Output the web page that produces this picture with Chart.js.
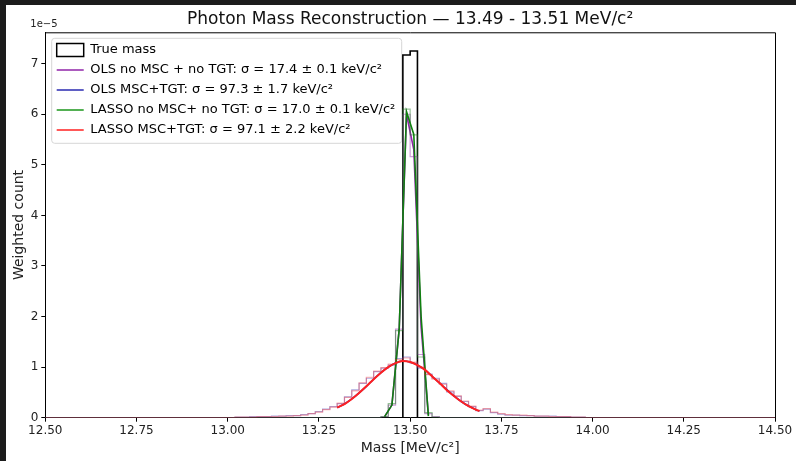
<!DOCTYPE html>
<html>
<head>
<meta charset="utf-8">
<script src="https://cdn.jsdelivr.net/npm/chart.js@4.4.1/dist/chart.umd.min.js"></script>
<style>
  html, body { margin: 0; padding: 0; background: #fff; }
  #wrap { position: relative; width: 796px; height: 461px; overflow: hidden; }
  #bandTop { position: absolute; left: 0; top: 0; width: 796px; height: 5px; background: #1c1c1c; }
  #bandLeft { position: absolute; left: 0; top: 0; width: 6px; height: 461px; background: #1c1c1c; }
  canvas { position: absolute; left: 0; top: 0; }
</style>
</head>
<body>
<div id="wrap">
  <canvas id="massChart" width="796" height="461"></canvas>
  <div id="bandTop"></div>
  <div id="bandLeft"></div>
</div>
<script>
// histogram binning (MeV/c^2), values below are in units of 1e-5
const binLo = 12.5;
const binHi = 14.5;
const binW = 0.02;

// True mass: two filled bins starting at 13.48
const trueStart = 13.48;
const trueCounts = [7.17, 7.25];

// no MSC / no TGT histograms, first bin 13.40
const narrowStart = 13.40;
const olsNoMscCounts   = [0.00, 0.02, 0.25, 1.75, 6.00, 5.16, 1.25, 0.08, 0.02, 0.00];
const lassoNoMscCounts = [0.00, 0.02, 0.28, 1.72, 6.10, 5.59, 1.20, 0.10, 0.01, 0.00];

// MSC+TGT histograms, first bin 13.00
const wideStart = 13.00;
const olsMscCounts = [
  0.00, 0.01, 0.01, 0.02, 0.02, 0.02, 0.03, 0.03, 0.04, 0.04,
  0.06, 0.08, 0.12, 0.17, 0.22, 0.28, 0.41, 0.55, 0.68, 0.78,
  0.91, 0.98, 1.04, 1.17, 1.20, 1.08, 0.98, 0.86, 0.78, 0.68,
  0.51, 0.42, 0.32, 0.22, 0.14, 0.17, 0.10, 0.07, 0.05, 0.05,
  0.04, 0.04, 0.03, 0.03, 0.03, 0.02, 0.02, 0.01, 0.01, 0.00
];
const lassoMscCounts = [
  0.00, 0.01, 0.01, 0.01, 0.02, 0.02, 0.02, 0.03, 0.03, 0.04,
  0.05, 0.08, 0.11, 0.16, 0.21, 0.29, 0.40, 0.53, 0.69, 0.80,
  0.92, 0.99, 1.06, 1.15, 1.18, 1.10, 1.00, 0.85, 0.76, 0.66,
  0.53, 0.43, 0.33, 0.23, 0.15, 0.18, 0.11, 0.08, 0.06, 0.05,
  0.05, 0.04, 0.03, 0.03, 0.02, 0.02, 0.02, 0.01, 0.01, 0.00
];

// fitted curves
const narrowFitX    = [13.43, 13.45, 13.47, 13.49, 13.51, 13.53, 13.55];
const olsNoMscFit   = [0.02, 0.25, 1.75, 6.00, 5.30, 1.80, 0.05];
const lassoNoMscFit = [0.02, 0.25, 1.75, 6.05, 5.60, 2.00, 0.03];

const wideFitX    = [13.30, 13.32, 13.34, 13.36, 13.38, 13.40, 13.42, 13.44, 13.46, 13.48, 13.50,
                     13.52, 13.54, 13.56, 13.58, 13.60, 13.62, 13.64, 13.66, 13.68, 13.69];
const olsMscFit   = [0.20, 0.27, 0.37, 0.49, 0.62, 0.76, 0.89, 1.00, 1.08, 1.12, 1.10,
                     1.04, 0.95, 0.82, 0.69, 0.56, 0.43, 0.32, 0.23, 0.16, 0.13];
const lassoMscFit = [0.20, 0.27, 0.37, 0.49, 0.62, 0.76, 0.89, 1.00, 1.08, 1.12, 1.10,
                     1.04, 0.95, 0.82, 0.69, 0.55, 0.43, 0.32, 0.23, 0.16, 0.13];

const yMax = 7.62;
const xTickStep = 0.25;

const titleText = 'Photon Mass Reconstruction \u2014 13.49 - 13.51 MeV/c\u00b2';
const labels = {
  trueMass: 'True mass',
  olsNoMsc: 'OLS no MSC + no TGT: \u03c3 = 17.4 \u00b1 0.1 keV/c\u00b2',
  olsMsc: 'OLS MSC+TGT: \u03c3 = 97.3 \u00b1 1.7 keV/c\u00b2',
  lassoNoMsc: 'LASSO no MSC+ no TGT: \u03c3 = 17.0 \u00b1 0.1 keV/c\u00b2',
  lassoMsc: 'LASSO MSC+TGT: \u03c3 = 97.1 \u00b1 2.2 keV/c\u00b2'
};

const colPurple = '#9024a8';
const colBlue = '#2a2ab0';
const colGreen = '#1a961a';
const colRed = '#ff2020';

// build a step outline over the full bin range (matplotlib histtype='step')
function stepPoints(start, counts) {
  const nb = Math.round((binHi - binLo) / binW);
  const off = Math.round((start - binLo) / binW);
  const vals = new Array(nb).fill(0);
  counts.forEach((v, i) => { vals[off + i] = v; });
  const pts = [{ x: binLo, y: 0 }];
  vals.forEach((v, i) => pts.push({ x: +(binLo + i * binW).toFixed(4), y: v }));
  pts.push({ x: binHi, y: vals[nb - 1] });
  pts.push({ x: binHi, y: 0 });
  return pts;
}

function linePoints(xs, ys) {
  return xs.map((x, i) => ({ x: x, y: ys[i] }));
}

function histSet(name, pts, color, width, order) {
  return {
    label: name, data: pts, stepped: 'before',
    borderColor: color, borderWidth: width, backgroundColor: 'transparent',
    pointRadius: 0, fill: false, order: order
  };
}

function fitSet(name, pts, color, width, order, smooth) {
  return {
    label: name, data: pts,
    borderColor: color, borderWidth: width, backgroundColor: 'transparent',
    pointRadius: 0, fill: false, order: order,
    cubicInterpolationMode: smooth ? 'monotone' : 'default', tension: 0
  };
}

const datasets = [
  histSet('trueHist', stepPoints(trueStart, trueCounts), '#000000', 1.6, 20),
  histSet('olsNoMscHist', stepPoints(narrowStart, olsNoMscCounts), 'rgba(144,36,168,0.45)', 1.2, 12),
  fitSet('olsNoMscFit', linePoints(narrowFitX, olsNoMscFit), colPurple, 1.6, 11, false),
  histSet('olsMscHist', stepPoints(wideStart, olsMscCounts), 'rgba(42,42,176,0.4)', 1.2, 10),
  fitSet('olsMscFit', linePoints(wideFitX, olsMscFit), colBlue, 1.6, 9, true),
  histSet('lassoNoMscHist', stepPoints(narrowStart, lassoNoMscCounts), 'rgba(26,120,26,0.45)', 1.2, 8),
  fitSet('lassoNoMscFit', linePoints(narrowFitX, lassoNoMscFit), '#108010', 1.6, 7, false),
  histSet('lassoMscHist', stepPoints(wideStart, lassoMscCounts), 'rgba(255,32,32,0.35)', 1.2, 6),
  fitSet('lassoMscFit', linePoints(wideFitX, lassoMscFit), colRed, 2, 5, true)
];

const legendItems = [
  { text: labels.trueMass, pointStyle: 'rect', fillStyle: '#ffffff', strokeStyle: '#000000', lineWidth: 1.5 },
  { text: labels.olsNoMsc, pointStyle: 'line', fillStyle: colPurple, strokeStyle: colPurple, lineWidth: 1.5 },
  { text: labels.olsMsc, pointStyle: 'line', fillStyle: colBlue, strokeStyle: colBlue, lineWidth: 1.5 },
  { text: labels.lassoNoMsc, pointStyle: 'line', fillStyle: colGreen, strokeStyle: colGreen, lineWidth: 1.5 },
  { text: labels.lassoMsc, pointStyle: 'line', fillStyle: colRed, strokeStyle: colRed, lineWidth: 1.5 }
];

// legend placement, frame, legend box, offset text
const extras = {
  id: 'extras',
  afterLayout(chart) {
    const a = chart.chartArea;
    const lg = chart.legend;
    lg.left = a.left + 4.4;
    lg.top = a.top + 4.2;
    lg.right = a.right;
    lg.bottom = a.bottom;
  },
  beforeDraw(chart) {
    const ctx = chart.ctx;
    const a = chart.chartArea;
    const x = a.left + 6.4, y = a.top + 6, w = 350, h = 105;
    ctx.save();
    ctx.beginPath();
    ctx.roundRect(x, y, w, h, 3);
    ctx.fillStyle = 'rgba(255,255,255,0.8)';
    ctx.fill();
    ctx.strokeStyle = '#d6d6d6';
    ctx.lineWidth = 1;
    ctx.stroke();
    ctx.restore();
  },
  afterDraw(chart) {
    const ctx = chart.ctx;
    const a = chart.chartArea;
    ctx.save();
    ctx.strokeStyle = '#000';
    ctx.lineWidth = 1;
    ctx.beginPath();
    ctx.moveTo(a.left, a.top + 0.5);
    ctx.lineTo(a.right + 0.5, a.top + 0.5);
    ctx.lineTo(a.right + 0.5, a.bottom);
    ctx.stroke();
    ctx.fillStyle = '#222';
    ctx.font = '10px "DejaVu Sans"';
    ctx.textBaseline = 'bottom';
    ctx.fillText('1e\u22125', a.left - 15, a.top - 3);
    ctx.restore();
  }
};

const tickFont = { family: 'DejaVu Sans', size: 12 };

new Chart(document.getElementById('massChart'), {
  type: 'line',
  data: { datasets: datasets },
  options: {
    responsive: false,
    animation: false,
    layout: { padding: { left: 0, right: 21, top: 0, bottom: 0 } },
    scales: {
      x: {
        type: 'linear', min: binLo, max: binHi,
        ticks: { stepSize: xTickStep, autoSkip: false, maxRotation: 0, color: '#222', font: tickFont, padding: 2,
                 callback: v => Number(v).toFixed(2) },
        grid: { display: true, drawOnChartArea: false, drawTicks: true, tickLength: 4, color: '#000' },
        border: { display: true, color: '#000', width: 1 },
        title: { display: true, text: 'Mass [MeV/c\u00b2]', color: '#222',
                 font: { family: 'DejaVu Sans', size: 14 }, padding: { top: 0, bottom: 4 } },
        afterFit: s => { s.height = 43.3; }
      },
      y: {
        type: 'linear', min: 0, max: yMax,
        ticks: { stepSize: 1, color: '#222', font: tickFont, padding: 3 },
        afterBuildTicks: s => { s.ticks = s.ticks.filter(t => Number.isInteger(t.value)); },
        grid: { display: true, drawOnChartArea: false, drawTicks: true, tickLength: 4, color: '#000' },
        border: { display: true, color: '#000', width: 1 },
        title: { display: true, text: 'Weighted count', color: '#222',
                 font: { family: 'DejaVu Sans', size: 14 }, padding: { top: 10.6, bottom: 0 } },
        afterFit: s => { s.width = 45.3; }
      }
    },
    plugins: {
      title: {
        display: true, text: titleText, fullSize: false, color: '#111',
        font: { family: 'DejaVu Sans', size: 17, weight: 'normal' },
        padding: { top: 9.6, bottom: 2.3 }
      },
      legend: {
        position: 'chartArea', align: 'start',
        labels: {
          usePointStyle: true, pointStyleWidth: 27, padding: 7, color: '#1a1a1a',
          font: { family: 'DejaVu Sans', size: 13 },
          generateLabels: () => legendItems.map(it => Object.assign({ hidden: false }, it))
        },
        onClick: () => {}
      },
      tooltip: { enabled: false }
    }
  },
  plugins: [extras]
});
</script>
</body>
</html>
